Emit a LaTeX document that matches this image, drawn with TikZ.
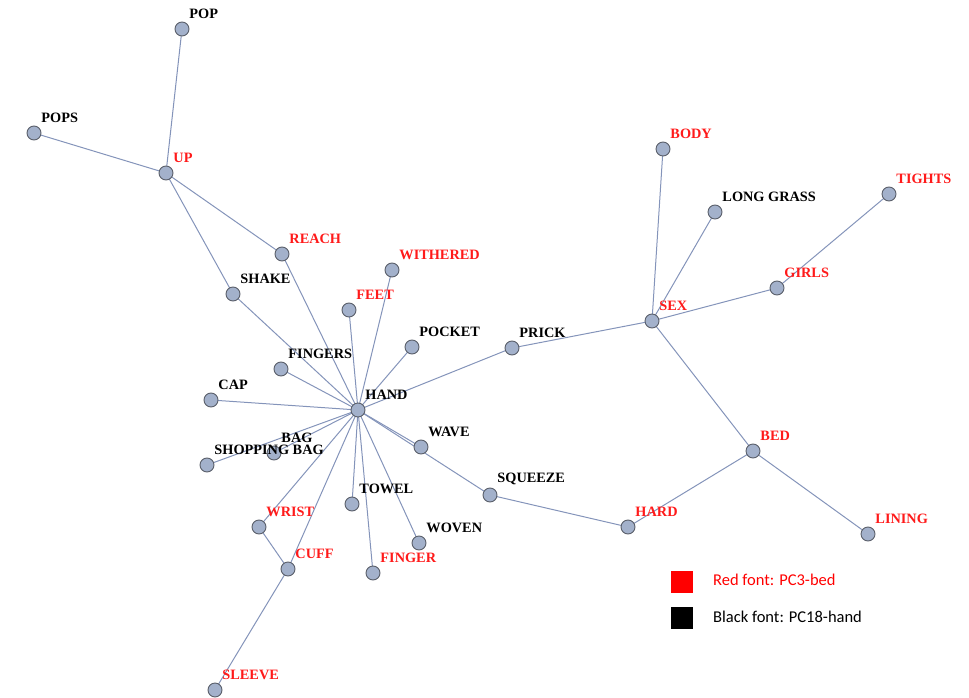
\documentclass[tikz,border=0pt]{standalone}
\usepackage{fontspec}
\usetikzlibrary{backgrounds}
\setmainfont{Liberation Serif}
\newfontfamily\legfont{Carlito}
\definecolor{edgec}{HTML}{8494BA}
\definecolor{nodef}{HTML}{A3B1CB}
\definecolor{noded}{HTML}{5A5F6A}
\definecolor{redl}{HTML}{FF1A1A}
\begin{document}
\begin{tikzpicture}[x=1pt,y=-1pt,
  v/.style={circle,fill=nodef,draw=noded,line width=0.9pt,minimum size=14pt,inner sep=0pt},
  lab/.style={inner sep=0pt,label distance=0pt,xshift=2pt,yshift=5pt,font=\fontsize{14.3}{15}\selectfont\bfseries},
  rl/.style={v,label={[lab,text=redl]above right:#1}},
  bl/.style={v,label={[lab,text=black]above right:#1}},
  e/.style={draw=edgec,line width=1pt}]
\useasboundingbox (0,0) rectangle (969,698);
% nodes
\node[bl=POP] (pop) at (182,29) {};
\node[bl=POPS] (pops) at (34,133) {};
\node[rl=UP] (up) at (166,173) {};
\node[rl=REACH] (reach) at (282,254) {};
\node[bl=SHAKE] (shake) at (233,294) {};
\node[rl=WITHERED] (withered) at (392,270) {};
\node[rl=FEET] (feet) at (349,310) {};
\node[bl=POCKET] (pocket) at (412,347) {};
\node[bl=FINGERS] (fingers) at (281,369) {};
\node[bl=CAP] (cap) at (211,400) {};
\node[bl=HAND] (hand) at (358,410) {};
\node[bl=BAG] (bag) at (274,453) {};
\node[bl={SHOPPING BAG}] (shop) at (207,465) {};
\node[bl=WAVE] (wave) at (421,447) {};
\node[bl=SQUEEZE] (squeeze) at (490,495) {};
\node[bl=TOWEL] (towel) at (352,504) {};
\node[bl=WOVEN] (woven) at (419,543) {};
\node[rl=WRIST] (wrist) at (259,527) {};
\node[rl=CUFF] (cuff) at (288,569) {};
\node[rl=FINGER] (finger) at (373,573) {};
\node[rl=SLEEVE] (sleeve) at (215,690) {};
\node[bl=PRICK] (prick) at (512,348) {};
\node[rl=SEX] (sex) at (652,321) {};
\node[rl=BODY] (body) at (663,149) {};
\node[bl={LONG GRASS}] (grass) at (715,212) {};
\node[rl=TIGHTS] (tights) at (889,194) {};
\node[rl=GIRLS] (girls) at (777,288) {};
\node[rl=BED] (bed) at (753,451) {};
\node[rl=HARD] (hard) at (628,527) {};
\node[rl=LINING] (lining) at (868,534) {};
% edges
\begin{pgfonlayer}{background}
\foreach \a/\b in {pop/up,pops/up,up/reach,up/shake,shake/hand,reach/hand,withered/hand,feet/hand,pocket/hand,fingers/hand,cap/hand,hand/prick,prick/sex,sex/body,sex/grass,sex/girls,girls/tights,sex/bed,bed/hard,bed/lining,hard/squeeze,squeeze/hand,wave/hand,bag/hand,shop/hand,towel/hand,woven/hand,finger/hand,cuff/hand,wrist/hand,wrist/cuff,cuff/sleeve}
  \draw[e] (\a.center) -- (\b.center);
\end{pgfonlayer}
% legend
\node[fill=red,minimum size=22pt,inner sep=0pt] (redsq) at (681.5,581.5) {};
\node[fill=black,minimum size=22pt,inner sep=0pt] (blksq) at (681.5,617.5) {};
\node[anchor=west,inner sep=0pt,text=red,font=\legfont\fontsize{16.5}{18}\selectfont] (redt) at (713,580) {Red font: PC3-bed};
\node[anchor=west,inner sep=0pt,text=black,font=\legfont\fontsize{16.5}{18}\selectfont] (blkt) at (713,617) {Black font: PC18-hand};
\end{tikzpicture}
\end{document}
